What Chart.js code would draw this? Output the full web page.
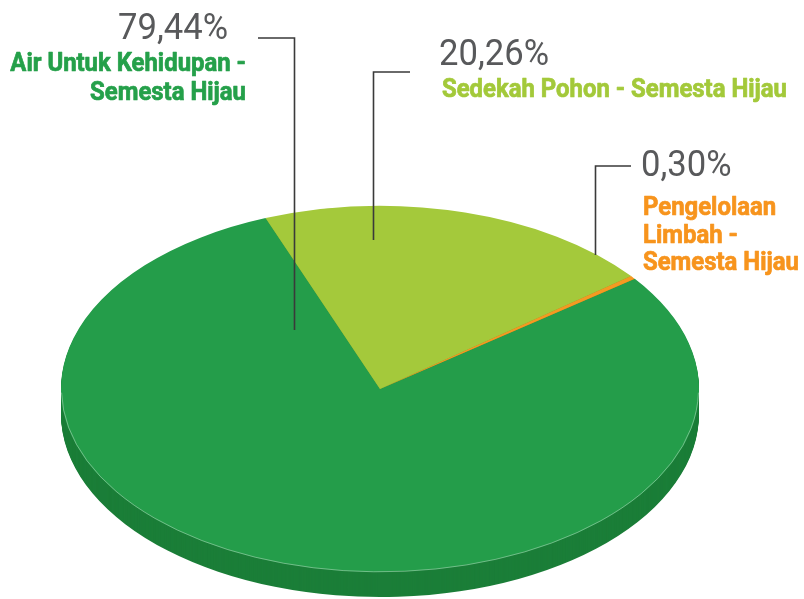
<!DOCTYPE html>
<html>
<head>
<meta charset="utf-8">
<script src="https://cdn.jsdelivr.net/npm/chart.js@4.4.1/dist/chart.umd.min.js"></script>
<style>
  html, body { margin: 0; padding: 0; background: #ffffff; }
  #wrap { width: 804px; height: 599px; position: relative; }
</style>
</head>
<body>
<div id="wrap"><canvas id="c" width="804" height="599"></canvas></div>
<script>
// ---- data ----
const categories = ['Air Untuk Kehidupan - Semesta Hijau', 'Sedekah Pohon - Semesta Hijau', 'Pengelolaan Limbah - Semesta Hijau'];
const values = [79.44, 20.26, 0.30];
const valueLabels = ['79,44%', '20,26%', '0,30%'];
const nameLines = [
  ['Air Untuk Kehidupan -', 'Semesta Hijau'],
  ['Sedekah Pohon - Semesta Hijau'],
  ['Pengelolaan', 'Limbah -', 'Semesta Hijau']
];

// ---- styles ----
const topColors = ['#249d4a', '#a4c93b', '#f49a22'];
const sideColors = ['#1b7e38', '#7f9c2c', '#c07718'];
const textColors = ['#25a04a', '#a3c93a', '#f7941d'];
const SQ = 0.574;     // vertical squash of the pie
const DEPTH = 25;     // thickness of the pie side in px
const FONT_FAMILY = 'Roboto, "Liberation Sans", sans-serif';

function piePath(ctx, el) {
  ctx.beginPath();
  ctx.moveTo(el.x, el.y);
  ctx.arc(el.x, el.y, el.outerRadius, el.startAngle, el.endAngle);
  ctx.closePath();
}

function condText(ctx, text, x, y, align, sx, strokeW) {
  ctx.save();
  ctx.translate(x, y);
  ctx.scale(sx, 1);
  ctx.textAlign = align;
  ctx.fillText(text, 0, 0);
  if (strokeW) {
    ctx.strokeStyle = ctx.fillStyle;
    ctx.lineWidth = strokeW;
    ctx.lineJoin = 'round';
    ctx.strokeText(text, 0, 0);
  }
  ctx.restore();
}

const pie3d = {
  id: 'pie3d',
  beforeDatasetsDraw(chart) {
    const ctx = chart.ctx;
    const meta = chart.getDatasetMeta(0);
    const cx = meta.data[0].x, cy = meta.data[0].y;
    for (let d = DEPTH; d >= 1; d--) {
      ctx.save();
      ctx.translate(0, d);
      ctx.translate(cx, cy); ctx.scale(1, SQ); ctx.translate(-cx, -cy);
      meta.data.forEach((el, i) => {
        piePath(ctx, el);
        ctx.fillStyle = sideColors[i];
        ctx.fill();
      });
      ctx.restore();
    }
    ctx.save();
    ctx.translate(cx, cy); ctx.scale(1, SQ); ctx.translate(-cx, -cy);
  },
  afterDatasetsDraw(chart) {
    const ctx = chart.ctx;
    ctx.restore();
    const meta = chart.getDatasetMeta(0);
    const el = meta.data[0];
    ctx.save();
    ctx.translate(el.x, el.y); ctx.scale(1, SQ);
    ctx.beginPath();
    ctx.arc(0, 0, el.outerRadius - 0.5, 0.02, Math.PI - 0.02);
    ctx.restore();
    ctx.save();
    ctx.strokeStyle = 'rgba(255,255,255,0.35)';
    ctx.lineWidth = 1;
    ctx.stroke();
    ctx.restore();
  },
  afterDraw(chart) {
    const ctx = chart.ctx;
    ctx.save();
    ctx.strokeStyle = '#3a3a3a';
    ctx.lineWidth = 1.6;
    const leaders = [
      [[258, 38], [294.5, 38], [294.5, 330]],
      [[410, 72], [373.5, 72], [373.5, 240]],
      [[631, 166], [595.5, 166], [595.5, 255]]
    ];
    leaders.forEach(pts => {
      ctx.beginPath();
      ctx.moveTo(pts[0][0], pts[0][1]);
      for (let k = 1; k < pts.length; k++) ctx.lineTo(pts[k][0], pts[k][1]);
      ctx.stroke();
    });
    ctx.textBaseline = 'alphabetic';
    // value labels
    ctx.fillStyle = '#58595b';
    ctx.font = '37px ' + FONT_FAMILY;
    const sxNum = 110 / ctx.measureText(valueLabels[0]).width;
    condText(ctx, valueLabels[0], 118, 39, 'left', sxNum, 0);
    condText(ctx, valueLabels[1], 439, 65, 'left', sxNum, 0);
    condText(ctx, valueLabels[2], 641, 176, 'left', sxNum, 0);
    // name labels
    ctx.font = 'bold 25px ' + FONT_FAMILY;
    const sxName = 345 / ctx.measureText(nameLines[1][0]).width;
    ctx.fillStyle = textColors[0];
    condText(ctx, nameLines[0][0], 246, 71, 'right', sxName, 0.7);
    condText(ctx, nameLines[0][1], 246, 100, 'right', sxName, 0.7);
    ctx.fillStyle = textColors[1];
    condText(ctx, nameLines[1][0], 442, 97, 'left', sxName, 0.7);
    ctx.fillStyle = textColors[2];
    condText(ctx, nameLines[2][0], 643, 215, 'left', sxName, 0.7);
    condText(ctx, nameLines[2][1], 643, 243, 'left', sxName, 0.7);
    condText(ctx, nameLines[2][2], 643, 270, 'left', sxName, 0.7);
    ctx.restore();
  }
};

new Chart(document.getElementById('c'), {
  type: 'pie',
  data: {
    labels: categories,
    datasets: [{
      data: values,
      backgroundColor: topColors,
      borderWidth: 0,
      clip: false
    }]
  },
  options: {
    responsive: false,
    animation: false,
    events: [],
    rotation: 53,
    radius: 319,
    layout: { padding: { left: 0, right: 44, top: 179, bottom: 0 } },
    plugins: {
      legend: { display: false },
      tooltip: { enabled: false }
    }
  },
  plugins: [pie3d]
});
</script>
</body>
</html>
